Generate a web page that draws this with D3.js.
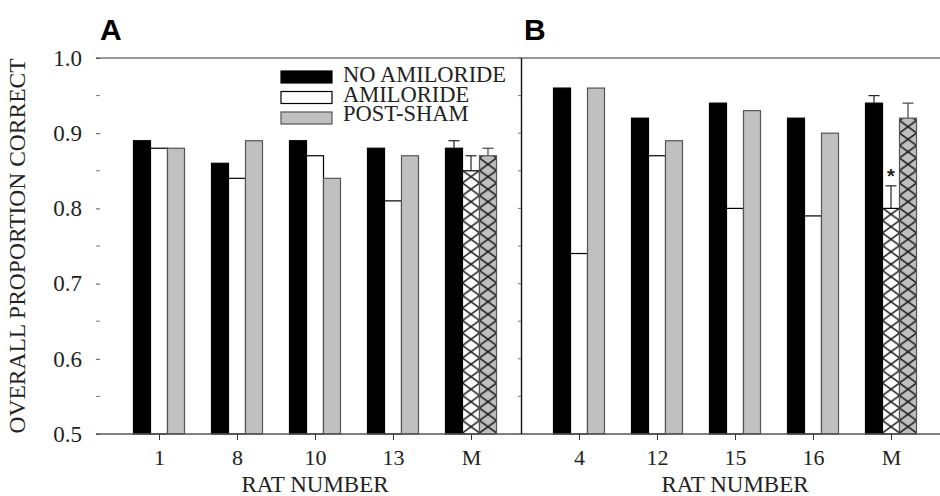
<!DOCTYPE html>
<html><head><meta charset="utf-8">
<script src="https://cdn.jsdelivr.net/npm/d3@7"></script>
<style>body{margin:0;background:#fff}svg{display:block}</style>
</head><body>
<svg id="c" width="940" height="496"></svg>
<script>
const seriesNames = ["NO AMILORIDE", "AMILORIDE", "POST-SHAM"];
const catsA = ["1", "8", "10", "13", "M"];
const catsB = ["4", "12", "15", "16", "M"];
const noAmilorideA = [0.89, 0.86, 0.89, 0.88, 0.88];
const amilorideA   = [0.88, 0.84, 0.87, 0.81, 0.85];
const postShamA    = [0.88, 0.89, 0.84, 0.87, 0.87];
const noAmilorideB = [0.96, 0.92, 0.94, 0.92, 0.94];
const amilorideB   = [0.74, 0.87, 0.80, 0.79, 0.80];
const postShamB    = [0.96, 0.89, 0.93, 0.90, 0.92];
// error-bar tops (mean column only)
const errTopA = [0.89, 0.87, 0.88];
const errTopB = [0.95, 0.83, 0.94];
const yTicks = [0.5, 0.6, 0.7, 0.8, 0.9, 1.0];
const yMinorTicks = [0.55, 0.65, 0.75, 0.85, 0.95];

const svg = d3.select("#c");
const serif = "'Liberation Serif','Times New Roman',serif";
const sans = "'Liberation Sans',Arial,sans-serif";
const fills = ["#000", "#fff", "#c0c0c0"];
const strokes = ["#000", "#000", "#555"];
const y = d3.scaleLinear().domain([0.5, 1.0]).range([434, 58]);
const barW = 17;

const defs = svg.append("defs");
let patId = 0;

function panel(cats, series, errTop, range, letter, letterX) {
  const x = d3.scalePoint().domain(cats).range(range);
  const g = svg.append("g");
  series.forEach((vals, si) => {
    cats.forEach((c, ci) => {
      const x0 = x(c) + (si - 1.5) * barW;
      const hatched = (c === "M" && si > 0);
      let fill = fills[si];
      if (hatched) {
        const id = "hp" + (patId++);
        const p = defs.append("pattern").attr("id", id)
          .attr("patternUnits", "userSpaceOnUse")
          .attr("x", x0).attr("y", y(1.0)).attr("width", barW).attr("height", 12.5);
        p.append("rect").attr("width", barW).attr("height", 12.5).attr("fill", fills[si]);
        p.append("path").attr("d", `M0,0L${barW},12.5M${barW},0L0,12.5`)
          .attr("stroke", "#111").attr("stroke-width", 1.4).attr("fill", "none");
        fill = `url(#${id})`;
      }
      g.append("rect").attr("x", x0).attr("y", y(vals[ci]))
        .attr("width", barW).attr("height", y(0.5) - y(vals[ci]))
        .attr("fill", fill).attr("stroke", strokes[si]).attr("stroke-width", 1.2);
      if (c === "M") {
        const cx = x0 + barW / 2;
        const col = si === 2 ? "#444" : "#222";
        g.append("line").attr("x1", cx).attr("x2", cx)
          .attr("y1", y(vals[ci])).attr("y2", y(errTop[si]))
          .attr("stroke", col).attr("stroke-width", 1.2);
        g.append("line").attr("x1", cx - 5.5).attr("x2", cx + 5.5)
          .attr("y1", y(errTop[si])).attr("y2", y(errTop[si]))
          .attr("stroke", col).attr("stroke-width", 1.2);
      }
    });
  });
  // x axis ticks + labels
  const xa = d3.axisBottom(x).tickSize(6).tickPadding(9);
  const ax = svg.append("g").attr("transform", "translate(0,434)").call(xa);
  ax.select(".domain").remove();
  ax.selectAll("line").attr("stroke", "#333");
  ax.selectAll("text").attr("font-family", serif).attr("font-size", 22).attr("fill", "#222");
  svg.append("text").attr("x", (range[0] + range[1]) / 2).attr("y", 492)
    .attr("text-anchor", "middle").attr("font-family", serif).attr("font-size", 23)
    .attr("fill", "#222").text("RAT NUMBER");
  svg.append("text").attr("x", letterX).attr("y", 40).attr("font-family", sans)
    .attr("font-weight", "bold").attr("font-size", 30).attr("fill", "#000")
    .text(letter);
  return x;
}

panel(catsA, [noAmilorideA, amilorideA, postShamA], errTopA, [159, 471], "A", 100);
panel(catsB, [noAmilorideB, amilorideB, postShamB], errTopB, [579, 891], "B", 524);

// frame lines
svg.append("line").attr("x1", 96).attr("x2", 940).attr("y1", 58).attr("y2", 58)
  .attr("stroke", "#777").attr("stroke-width", 1.6);
svg.append("line").attr("x1", 96).attr("x2", 940).attr("y1", 434).attr("y2", 434)
  .attr("stroke", "#555").attr("stroke-width", 1.4);
svg.append("line").attr("x1", 521.5).attr("x2", 521.5).attr("y1", 58).attr("y2", 434)
  .attr("stroke", "#111").attr("stroke-width", 1.4);

// y axis A (inward ticks) and labels
const yAxA = svg.append("g").attr("transform", "translate(96,0)")
  .call(d3.axisLeft(y).tickValues(yTicks).tickFormat(d3.format(".1f")).tickSize(-4).tickPadding(14));
yAxA.select(".domain").remove();
yAxA.selectAll("line").attr("stroke", "#555");
yAxA.selectAll("text").attr("font-family", serif).attr("font-size", 23).attr("fill", "#222");
svg.append("g").selectAll("line").data(yMinorTicks).join("line")
  .attr("x1", 96).attr("x2", 100).attr("y1", d => y(d)).attr("y2", d => y(d)).attr("stroke", "#777");
// y axis B ticks (outward to the left)
svg.append("g").selectAll("line").data(yTicks.concat(yMinorTicks)).join("line")
  .attr("x1", 518).attr("x2", 521).attr("y1", d => y(d)).attr("y2", d => y(d)).attr("stroke", "#777");

// y title
svg.append("text").attr("transform", "translate(25,246) rotate(-90)")
  .attr("text-anchor", "middle").attr("font-family", serif).attr("font-size", 23.5)
  .attr("fill", "#222").text("OVERALL PROPORTION CORRECT");

// asterisk
svg.append("text").attr("x", 891).attr("y", y(errTopB[1]) - 3).attr("text-anchor", "middle")
  .attr("font-family", sans).attr("font-weight", "bold").attr("font-size", 20).attr("fill", "#222").text("*");

// legend
const lg = svg.append("g");
seriesNames.forEach((s, i) => {
  lg.append("rect").attr("x", 281).attr("y", 71 + i * 20.5).attr("width", 51).attr("height", 12)
    .attr("fill", fills[i]).attr("stroke", strokes[i]).attr("stroke-width", 1.2);
  lg.append("text").attr("x", 343).attr("y", 82 + i * 19.5).attr("font-family", serif)
    .attr("font-size", 22.5).attr("fill", "#222").text(s);
});
</script>
</body></html>
